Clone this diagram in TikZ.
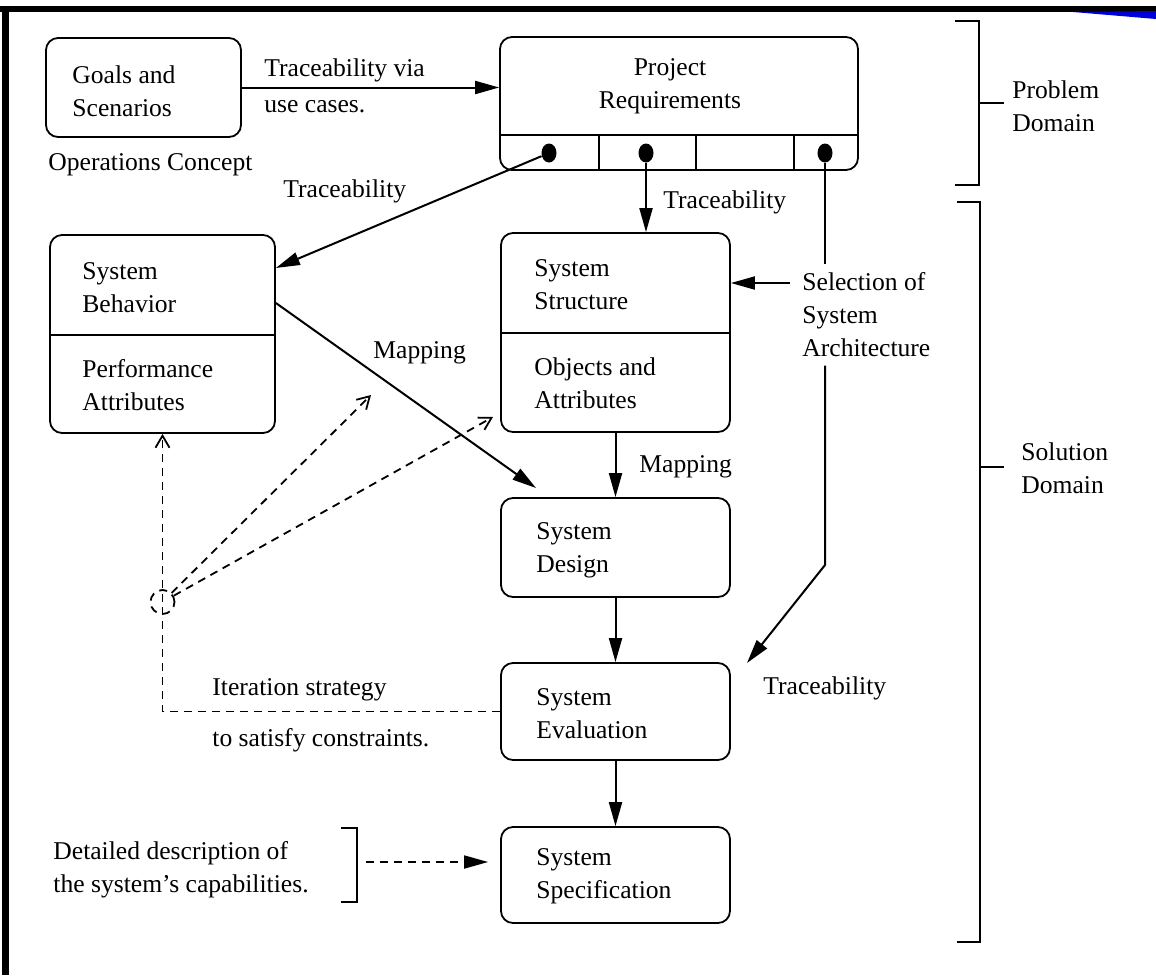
\documentclass[tikz,border=0pt]{standalone}
\usepackage{fontspec}
\setmainfont{Liberation Serif}
\usetikzlibrary{arrows.meta,shapes.geometric}

\begin{document}
\begin{tikzpicture}[x=0.5pt, y=-0.5pt,
    box/.style={draw, line width=0.9pt, rounded corners=6pt, inner sep=0pt},
    txt/.style={anchor=west, align=left, inner sep=0pt, font=\fontsize{12.8}{16.5}\selectfont},
    arr/.style={line width=1pt, -{Triangle[length=12pt, width=6.5pt]}},
    dsh/.style={line width=0.9pt, dash pattern=on 4pt off 3pt},
    knob/.style={ellipse, fill, inner sep=0pt, minimum width=7.5pt, minimum height=9.5pt}]

    \useasboundingbox (0,0) rectangle (1156,975);

    % Frame of the slide
    \fill (0,6) rectangle (1156,12);
    \fill (2,6) rectangle (9,975);
    \fill[blue!85!black] (1073,12) -- (1156,11) -- (1156,19) -- cycle;

    % Problem domain
    \node[box, minimum width=97.5pt, minimum height=49.5pt] (goals) at (143.5,87.5) {};
    \node[txt] (goalsT) at (72,91) {Goals and\\Scenarios};
    \node[txt] (opcon) at (48,165) {Operations Concept};

    \node[box, minimum width=179pt, minimum height=66.5pt] (req) at (679,103.5) {};
    \node[txt, anchor=center, align=center] (reqT) at (670,86) {Project\\Requirements};
    \draw[line width=0.9pt] (500,135) -- (858,135);
    \foreach \x in {599,696,794}
        \draw[line width=0.9pt] (\x,135) -- (\x,170);
    \node[knob] (k1) at (549,153) {};
    \node[knob] (k2) at (646,153) {};
    \node[knob] (k3) at (825,153) {};

    % Solution domain
    \node[box, minimum width=112.5pt, minimum height=99pt] (sb) at (162.5,334) {};
    \draw[line width=0.9pt] (50,335) -- (275,335);
    \node[txt] (sbT1) at (82,287.5) {System\\Behavior};
    \node[txt] (sbT2) at (82,385) {Performance\\Attributes};

    \node[box, minimum width=114.5pt, minimum height=99.5pt] (ss) at (615.5,332.5) {};
    \draw[line width=0.9pt] (501,333) -- (730,333);
    \node[txt] (ssT1) at (534,284.5) {System\\Structure};
    \node[txt] (ssT2) at (534,383.5) {Objects and\\Attributes};

    \node[box, minimum width=114.5pt, minimum height=49.5pt] (sd) at (615.5,547.5) {};
    \node[txt] (sdT) at (536,550) {System\\Design};

    \node[box, minimum width=114.5pt, minimum height=48.5pt] (se) at (615.5,711.5) {};
    \node[txt] (seT) at (536,714) {System\\Evaluation};

    \node[box, minimum width=114.5pt, minimum height=48pt] (sp) at (615.5,875) {};
    \node[txt] (spT) at (536,876.5) {System\\Specification};

    % Brackets on the right
    \draw[line width=1.4pt] (955,21) -- (979,21) -- (979,185) -- (955,185);
    \draw[line width=1.4pt] (979,103) -- (1004,103);
    \node[txt] (prob) at (1012,106) {Problem\\Domain};
    \draw[line width=1.4pt] (957,202) -- (980,202) -- (980,942) -- (957,942);
    \draw[line width=1.4pt] (980,467) -- (1004,467);
    \node[txt] (solu) at (1021,468) {Solution\\Domain};

    % Connectors
    \draw[arr] (goals.east) -- (goals.east -| req.west);
    \node[txt] (trv1) at (264,70) {Traceability via};
    \node[txt] (trv2) at (264,107) {use cases.};

    \draw[arr] (k1) -- ([yshift=33pt]sb.east);
    \node[txt] (tr1) at (283,191) {Traceability};

    \draw[arr] (k2) -- (k2 |- ss.north);
    \node[txt] (tr2) at (663,202) {Traceability};

    \node[txt, inner ysep=4pt] (sel) at (802,315) {Selection of\\System\\Architecture};
    \draw[arr] ([xshift=-6pt, yshift=16pt]sel.west) -- ([yshift=24.75pt]ss.east);
    \coordinate (bend) at (825,565);
    \coordinate (evin) at (747,663);
    \draw[line width=1pt] (k3) -- (k3 |- sel.north);
    \draw[arr] (k3 |- sel.south) -- (bend) -- (evin);
    \node[txt] (tr3) at (763,688) {Traceability};

    \coordinate (sdin) at (536,488);
    \draw[arr] ([yshift=15.5pt]sb.east) -- (sdin);
    \node[txt] (map1) at (373,353) {Mapping};

    \draw[arr] (ss) -- (sd);
    \node[txt] (map2) at (639,467) {Mapping};
    \draw[arr] (sd) -- (se);
    \draw[arr] (se) -- (sp);

    % Iteration loop
    \node[circle, draw, dsh, minimum size=12pt, inner sep=0pt] (hub) at (162.5,602) {};
    \coordinate (m1) at (371,395);
    \coordinate (m2) at (493,417);
    \draw[dsh] (se.west) -| (hub.center);
    \draw[dsh, -{Straight Barb[length=6pt, width=7pt]}] (hub.center) -- (hub |- sb.south);
    \draw[dsh, -{Straight Barb[length=6pt, width=7pt]}] (hub) -- (m1);
    \draw[dsh, -{Straight Barb[length=6pt, width=7pt]}] (hub) -- (m2);
    \node[txt] (iter1) at (212,690) {Iteration strategy};
    \node[txt] (iter2) at (212,740) {to satisfy constraints.};

    % Description of the specification
    \node[txt] (desc) at (53,870) {Detailed description of\\the system's capabilities.};
    \draw[line width=0.9pt] (341,828) -- (357,828) -- (357,902) -- (341,902);
    \coordinate (db) at (366,862);
    \draw[dsh, -{Triangle[length=12pt, width=6.5pt]}, shorten >=6pt] (db) -- (db -| sp.west);
\end{tikzpicture}
\end{document}
